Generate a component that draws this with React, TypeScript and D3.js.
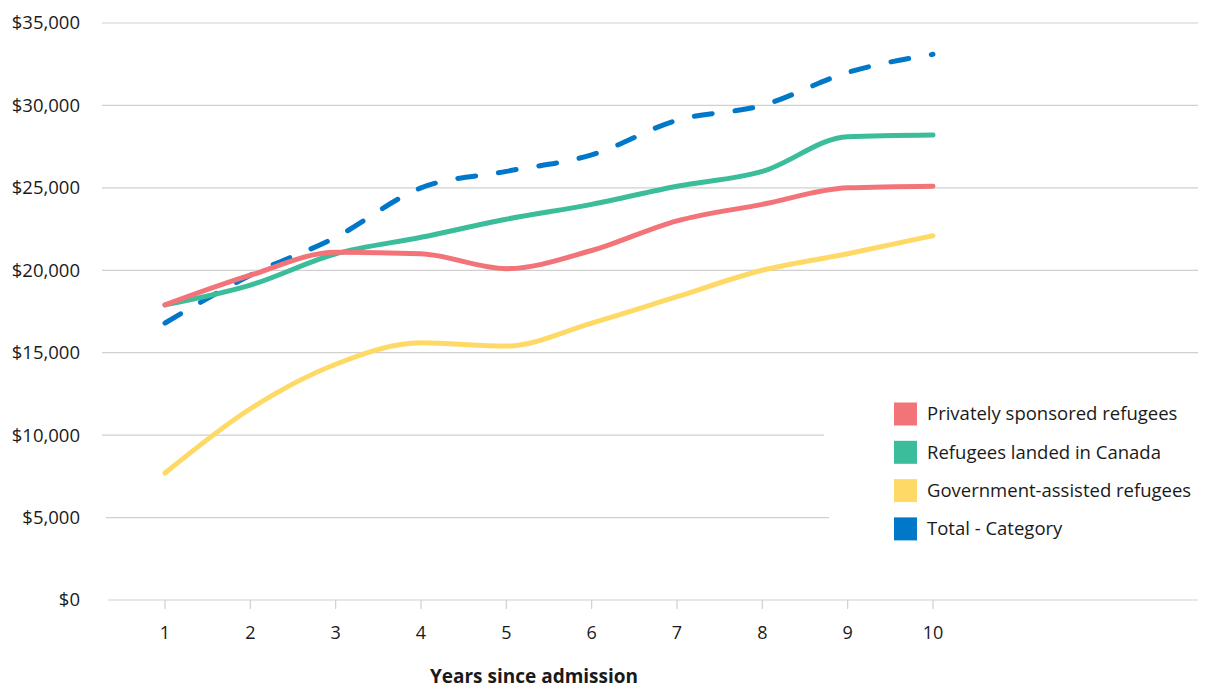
import React from "react";
import * as d3 from "d3";

const years = [1, 2, 3, 4, 5, 6, 7, 8, 9, 10];
const privatelySponsored = [17900, 19700, 21100, 21000, 20100, 21200, 23000, 24000, 25000, 25100];
const landedInCanada = [17900, 19100, 21000, 22000, 23100, 24000, 25100, 26000, 28100, 28200];
const governmentAssisted = [7700, 11600, 14300, 15600, 15400, 16800, 18400, 20000, 21000, 22100];
const totalCategory = [16800, 19700, 22000, 25000, 26000, 27000, 29100, 30000, 32000, 33100];
const yTicks = [0, 5000, 10000, 15000, 20000, 25000, 30000, 35000];

const seriesNames = [
  "Privately sponsored refugees",
  "Refugees landed in Canada",
  "Government-assisted refugees",
  "Total - Category",
];
const colors = ["#F27479", "#3BBD9B", "#FFD966", "#0077C8"];

const W = 1206;
const H = 689;
const FONT = "'Open Sans', 'Noto Sans', sans-serif";

export default function App() {
  const x = d3.scaleLinear().domain([1, 10]).range([165, 933]);
  const y = d3.scaleLinear().domain([0, 35000]).range([600, 23]);
  const line = d3
    .line<number>()
    .x((_, i) => x(years[i]))
    .y((d) => y(d))
    .curve(d3.curveMonotoneX);

  const data = [privatelySponsored, landedInCanada, governmentAssisted, totalCategory];
  const drawOrder = [3, 2, 1, 0];

  const gridStart = (v: number) => (v === 0 ? 108 : v === 5000 ? 106 : 102);
  const gridEnd = (v: number) => (v === 10000 ? 824 : v === 5000 ? 829 : 1198);

  return (
    <svg
      width={W}
      height={H}
      style={{ position: "absolute", left: 0, top: 0, background: "#fff" }}
      fontFamily={FONT}
    >
      {yTicks.map((v) => (
        <g key={v}>
          <line
            x1={gridStart(v)}
            x2={gridEnd(v)}
            y1={y(v)}
            y2={y(v)}
            stroke="#d0d0d0"
            strokeWidth={1.2}
          />
          <text
            x={80}
            y={y(v)}
            dy="0.35em"
            textAnchor="end"
            fontSize={18.5}
            fill="#1a1a1a"
          >
            {d3.format("$,")(v)}
          </text>
        </g>
      ))}
      {years.map((yr) => (
        <g key={yr}>
          <line x1={x(yr)} x2={x(yr)} y1={600} y2={609} stroke="#d0d0d0" strokeWidth={1.2} />
          <text x={x(yr)} y={639} textAnchor="middle" fontSize={18} fill="#1a1a1a">
            {yr}
          </text>
        </g>
      ))}
      <text x={534} y={683} textAnchor="middle" fontSize={19} fontWeight="bold" fill="#1a1a1a">
        Years since admission
      </text>
      {drawOrder.map((i) => (
        <path
          key={i}
          d={line(data[i]) || ""}
          fill="none"
          stroke={colors[i]}
          strokeWidth={5}
          strokeLinecap="round"
          strokeLinejoin="round"
          strokeDasharray={i === 3 ? "18 23" : undefined}
        />
      ))}
      {seriesNames.map((name, i) => (
        <g key={name} transform={`translate(894, ${414 + i * 38.3})`}>
          <rect x={0} y={-11.5} width={23} height={23} fill={colors[i]} />
          <text x={33} y={0} dy="0.35em" fontSize={18.5} fill="#1a1a1a">
            {name}
          </text>
        </g>
      ))}
    </svg>
  );
}
